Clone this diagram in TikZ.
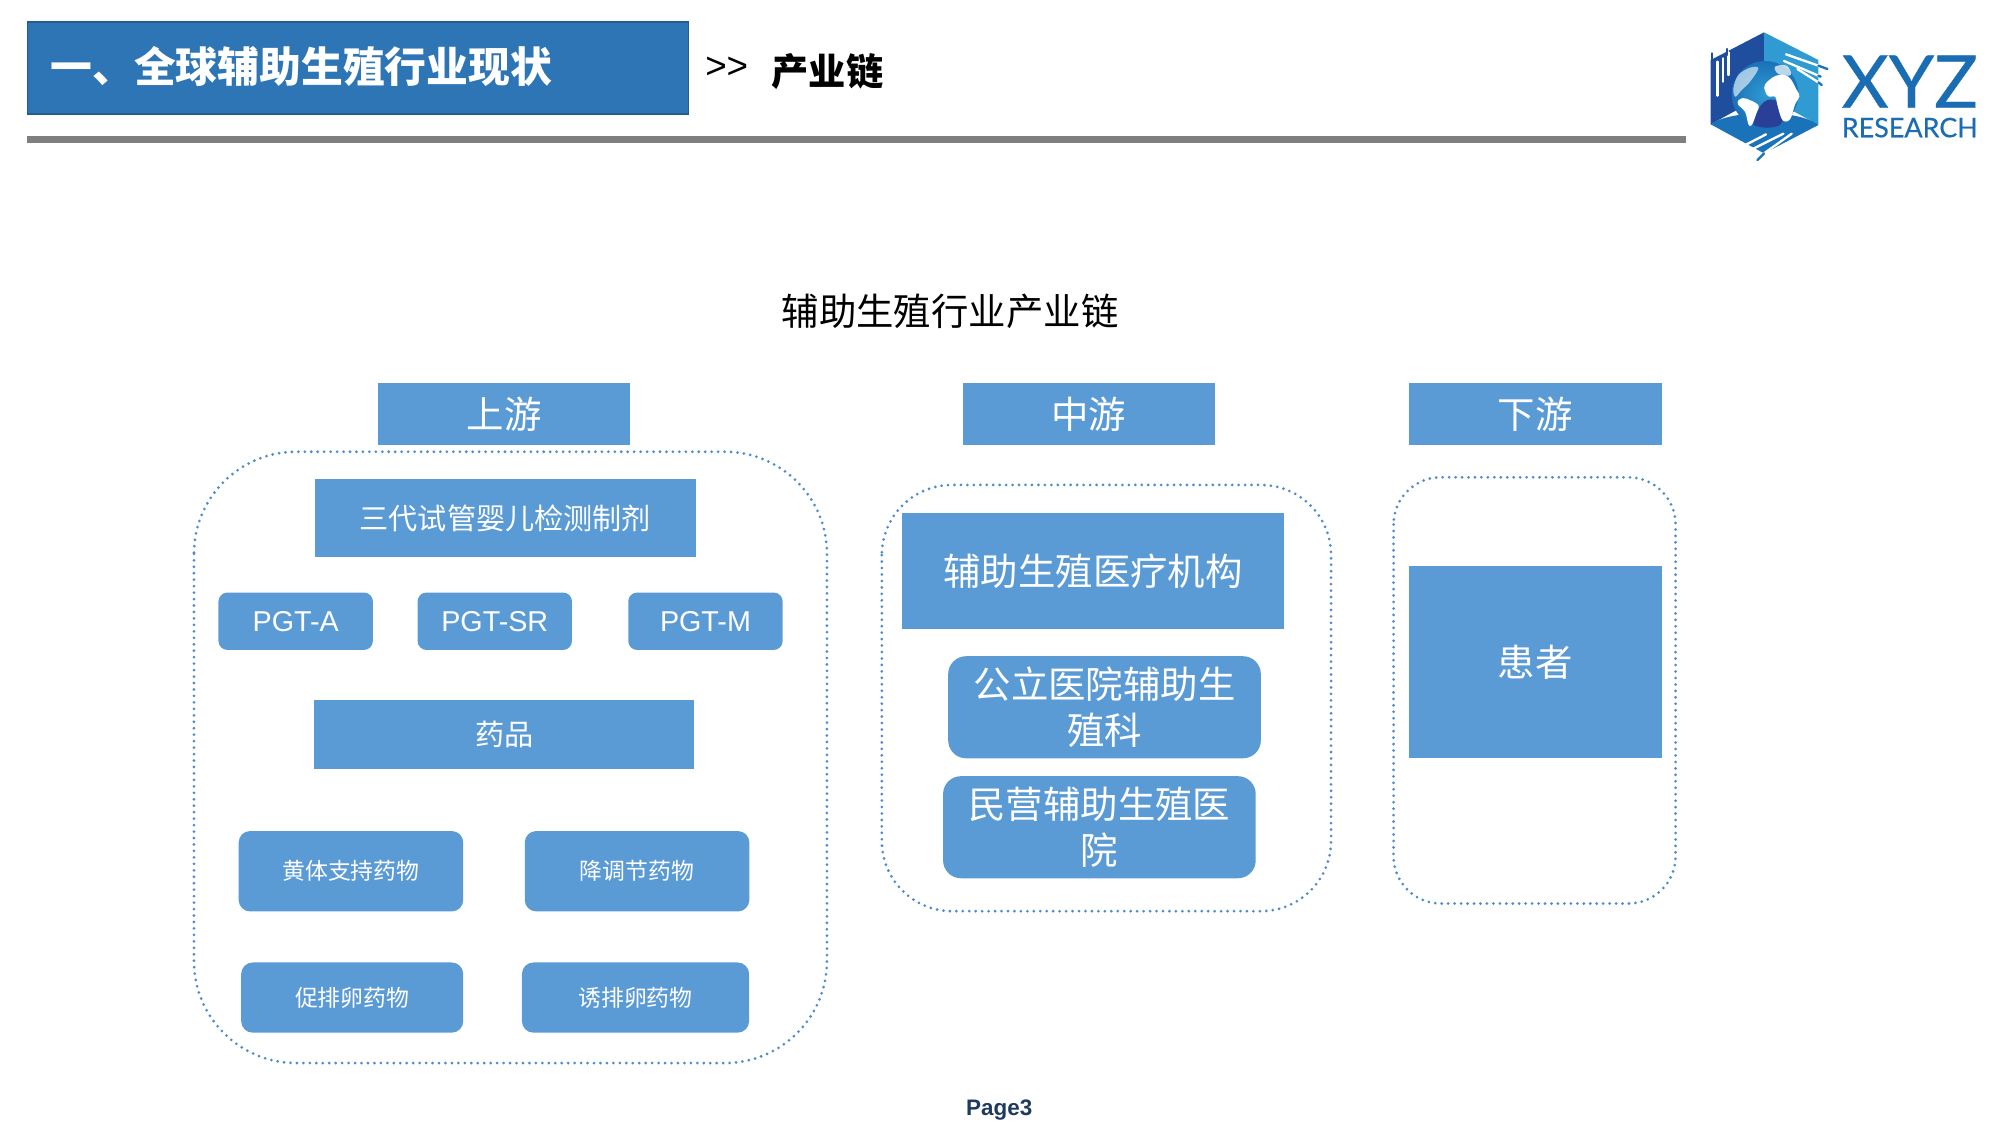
\documentclass[tikz,border=0pt]{standalone}
\usepackage{fontspec}
\setmainfont{Liberation Sans}
\newfontfamily\cjk{Noto Sans CJK SC}
\newfontfamily\logofont[FakeBold=0.5]{Lato}
\definecolor{boxblue}{HTML}{5B9BD5}
\definecolor{dotblue}{HTML}{4F8CCB}
\definecolor{headblue}{HTML}{2E75B6}
\definecolor{headedge}{HTML}{255C8E}
\definecolor{rulegray}{HTML}{7F7F7F}
\definecolor{pagecol}{HTML}{1F3A5F}
\definecolor{logoblue}{HTML}{1A6DB2}
\definecolor{logodark}{HTML}{1F4E9E}
\definecolor{logolight}{HTML}{2F9BD2}
\definecolor{logomid}{HTML}{1A72B8}
\definecolor{logodeep}{HTML}{2A3F97}
\newcommand{\fs}[1]{\fontsize{#1}{#1}\selectfont}
\tikzset{
  x=0.05cm,y=-0.05cm,
  size/.style 2 args={minimum width=#1*0.05cm,minimum height=#2*0.05cm},
  sqbox/.style={fill=boxblue,draw=none,text=white,inner sep=0pt,align=center,font=\cjk},
  rdbox/.style={sqbox,rounded corners=#1*0.05cm},
  group/.style={draw=dotblue,line width=3.4pt,line cap=round,dash pattern=on 0pt off 7.2pt,fill=none},
  logoline/.style={line width=2.6pt,line cap=round},
}
\begin{document}
\begin{tikzpicture}
\useasboundingbox (0,0) rectangle (1568,881.6);
% header
\node[fill=headblue,draw=headedge,line width=2pt,size={518}{72},inner sep=0pt] (head) at (280.5,53.5) {};
\node[anchor=west,text=white,inner sep=0pt,font=\cjk\bfseries\fs{46.6}] (headt) at (39.5,52) {一、全球辅助生殖行业现状};
\node[anchor=west,inner sep=0pt,font=\fs{41}] (gt) at (552.5,53.5) {>{}>};
\node[anchor=west,inner sep=0pt,font=\cjk\bfseries\fs{41.5}] (chain) at (604.5,56) {产业链};
\fill[rulegray] (21,106.5) rectangle (1321,112);
% logo
\begin{scope}[x=0.013062cm,y=-0.013062cm,shift={(5100,75)}]
\fill[logodark] (32,105) -- (192,22) -- (192,210) -- (32,298) -- cycle;
\fill[logolight] (192,22) -- (355,105) -- (355,300) -- (192,210) -- cycle;
\fill[logomid] (32,298) .. controls (90,255) and (290,250) .. (355,300) -- (192,385) -- cycle;
\shade[inner color=logolight,outer color=logomid] (195,208) circle (100);
\fill[logodeep] (160,300) .. controls (170,250) and (190,215) .. (225,225) .. controls (260,260) and (250,295) .. (235,303) .. controls (210,310) and (185,310) .. (160,300) -- cycle;
\fill[white] plot[smooth cycle,tension=0.6] coordinates {(195,178) (228,152) (265,155) (290,195) (298,215) (285,238) (270,283) (247,285) (232,240) (226,216) (205,214) (195,198)};
\fill[white] plot[smooth cycle,tension=0.6] coordinates {(115,226) (135,220) (175,240) (170,262) (155,300) (145,298) (135,260) (115,240)};
\fill[white,opacity=0.6] plot[smooth cycle,tension=0.6] coordinates {(100,190) (115,150) (150,128) (175,130) (150,170) (125,195) (106,215)};
\fill[white,opacity=0.7] plot[smooth cycle,tension=0.6] coordinates {(225,125) (260,122) (272,150) (235,147)};
\foreach \xa/\ya/\yb in {52/110/212,68/100/170,85/82/150}{\draw[logoline,white] (\xa,\ya) -- (\xa,\yb);}
\foreach \xa/\ya/\yb in {35/85/200,62/95/110,80/72/90}{\draw[logoline,logodark] (\xa,\ya) -- (\xa,\yb);}
\foreach \xa/\ya/\xb/\yb in {258/88/355/122,252/108/355/152,292/132/355/172}{\draw[logoline,white] (\xa,\ya) -- (\xb,\yb);}
\foreach \xa/\ya/\xb/\yb in {355/122/382/132,355/152/362/155,355/172/365/180}{\draw[logoline,logomid] (\xa,\ya) -- (\xb,\yb);}
\foreach \xa/\ya/\xb/\yb in {132/362/198/328,150/376/250/326,192/385/275/326}{\draw[logoline,white] (\xa,\ya) -- (\xb,\yb);}
\draw[logoline,logomid] (172,405) -- (192,385);
\end{scope}
\node[inner sep=0pt,text=logoblue,font=\logofont\fs{81}] (xyz) at (1496.5,64) {XYZ};
\node[inner sep=0pt,text=logoblue,font=\logofont\fs{30}] (res) at (1496.5,100) {RESEARCH};
% title
\node[inner sep=0pt,font=\cjk\fs{41.7}] (title) at (744.5,244) {辅助生殖行业产业链};
% group frames
\draw[group,rounded corners=80*0.05cm] (152,354) rectangle (648,833);
\draw[group,rounded corners=55*0.05cm] (691,380) rectangle (1043,714);
\draw[group,rounded corners=37*0.05cm] (1092,374) rectangle (1313,708);
% headers
\node[sqbox,size={198}{49},font=\cjk\fs{41.7}] (up) at (395,324.5) {上游};
\node[sqbox,size={198}{49},font=\cjk\fs{41.7}] (mid) at (853.3,324.5) {中游};
\node[sqbox,size={198}{49},font=\cjk\fs{41.7}] (down) at (1203,324.5) {下游};
% upstream
\node[sqbox,size={298}{61},font=\cjk\fs{32.5}] (a1) at (396,405.8) {三代试管婴儿检测制剂};
\node[rdbox=7,size={121}{45},font=\rmfamily\fs{32}] (pa) at (231.7,486.8) {PGT-A};
\node[rdbox=7,size={121}{45},font=\rmfamily\fs{32}] (ps) at (387.7,486.8) {PGT-SR};
\node[rdbox=7,size={121}{45},font=\rmfamily\fs{32}] (pm) at (552.8,486.8) {PGT-M};
\node[sqbox,size={298}{54},font=\cjk\fs{32.5}] (a2) at (395.2,575.2) {药品};
\node[rdbox=9,size={176}{63},font=\cjk\fs{25.5}] (d1) at (275,682.7) {黄体支持药物};
\node[rdbox=9,size={176}{63},font=\cjk\fs{25.5}] (d2) at (499.2,682.7) {降调节药物};
\node[rdbox=9,size={174}{55},font=\cjk\fs{25.5}] (d3) at (276,781.7) {促排卵药物};
\node[rdbox=9,size={178}{55},font=\cjk\fs{25.5}] (d4) at (498,781.7) {诱排卵药物};
% midstream
\node[sqbox,size={299}{91},font=\cjk\fs{41.7}] (b1) at (856.5,447.7) {辅助生殖医疗机构};
\node[rdbox=14,size={245}{80},font=\cjk\fontsize{41.7}{50.5}\selectfont] (b2) at (865.5,554.2) {公立医院辅助生\\殖科};
\node[rdbox=14,size={245}{80},font=\cjk\fontsize{41.7}{50.5}\selectfont] (b3) at (861.5,648.2) {民营辅助生殖医\\院};
% downstream
\node[sqbox,size={198}{151},font=\cjk\fs{41.7}] (c1) at (1203,518.8) {患者};
% footer
\node[inner sep=0pt,text=pagecol,font=\bfseries\fs{25}] (page) at (783,870) {Page3};
\end{tikzpicture}
\end{document}
